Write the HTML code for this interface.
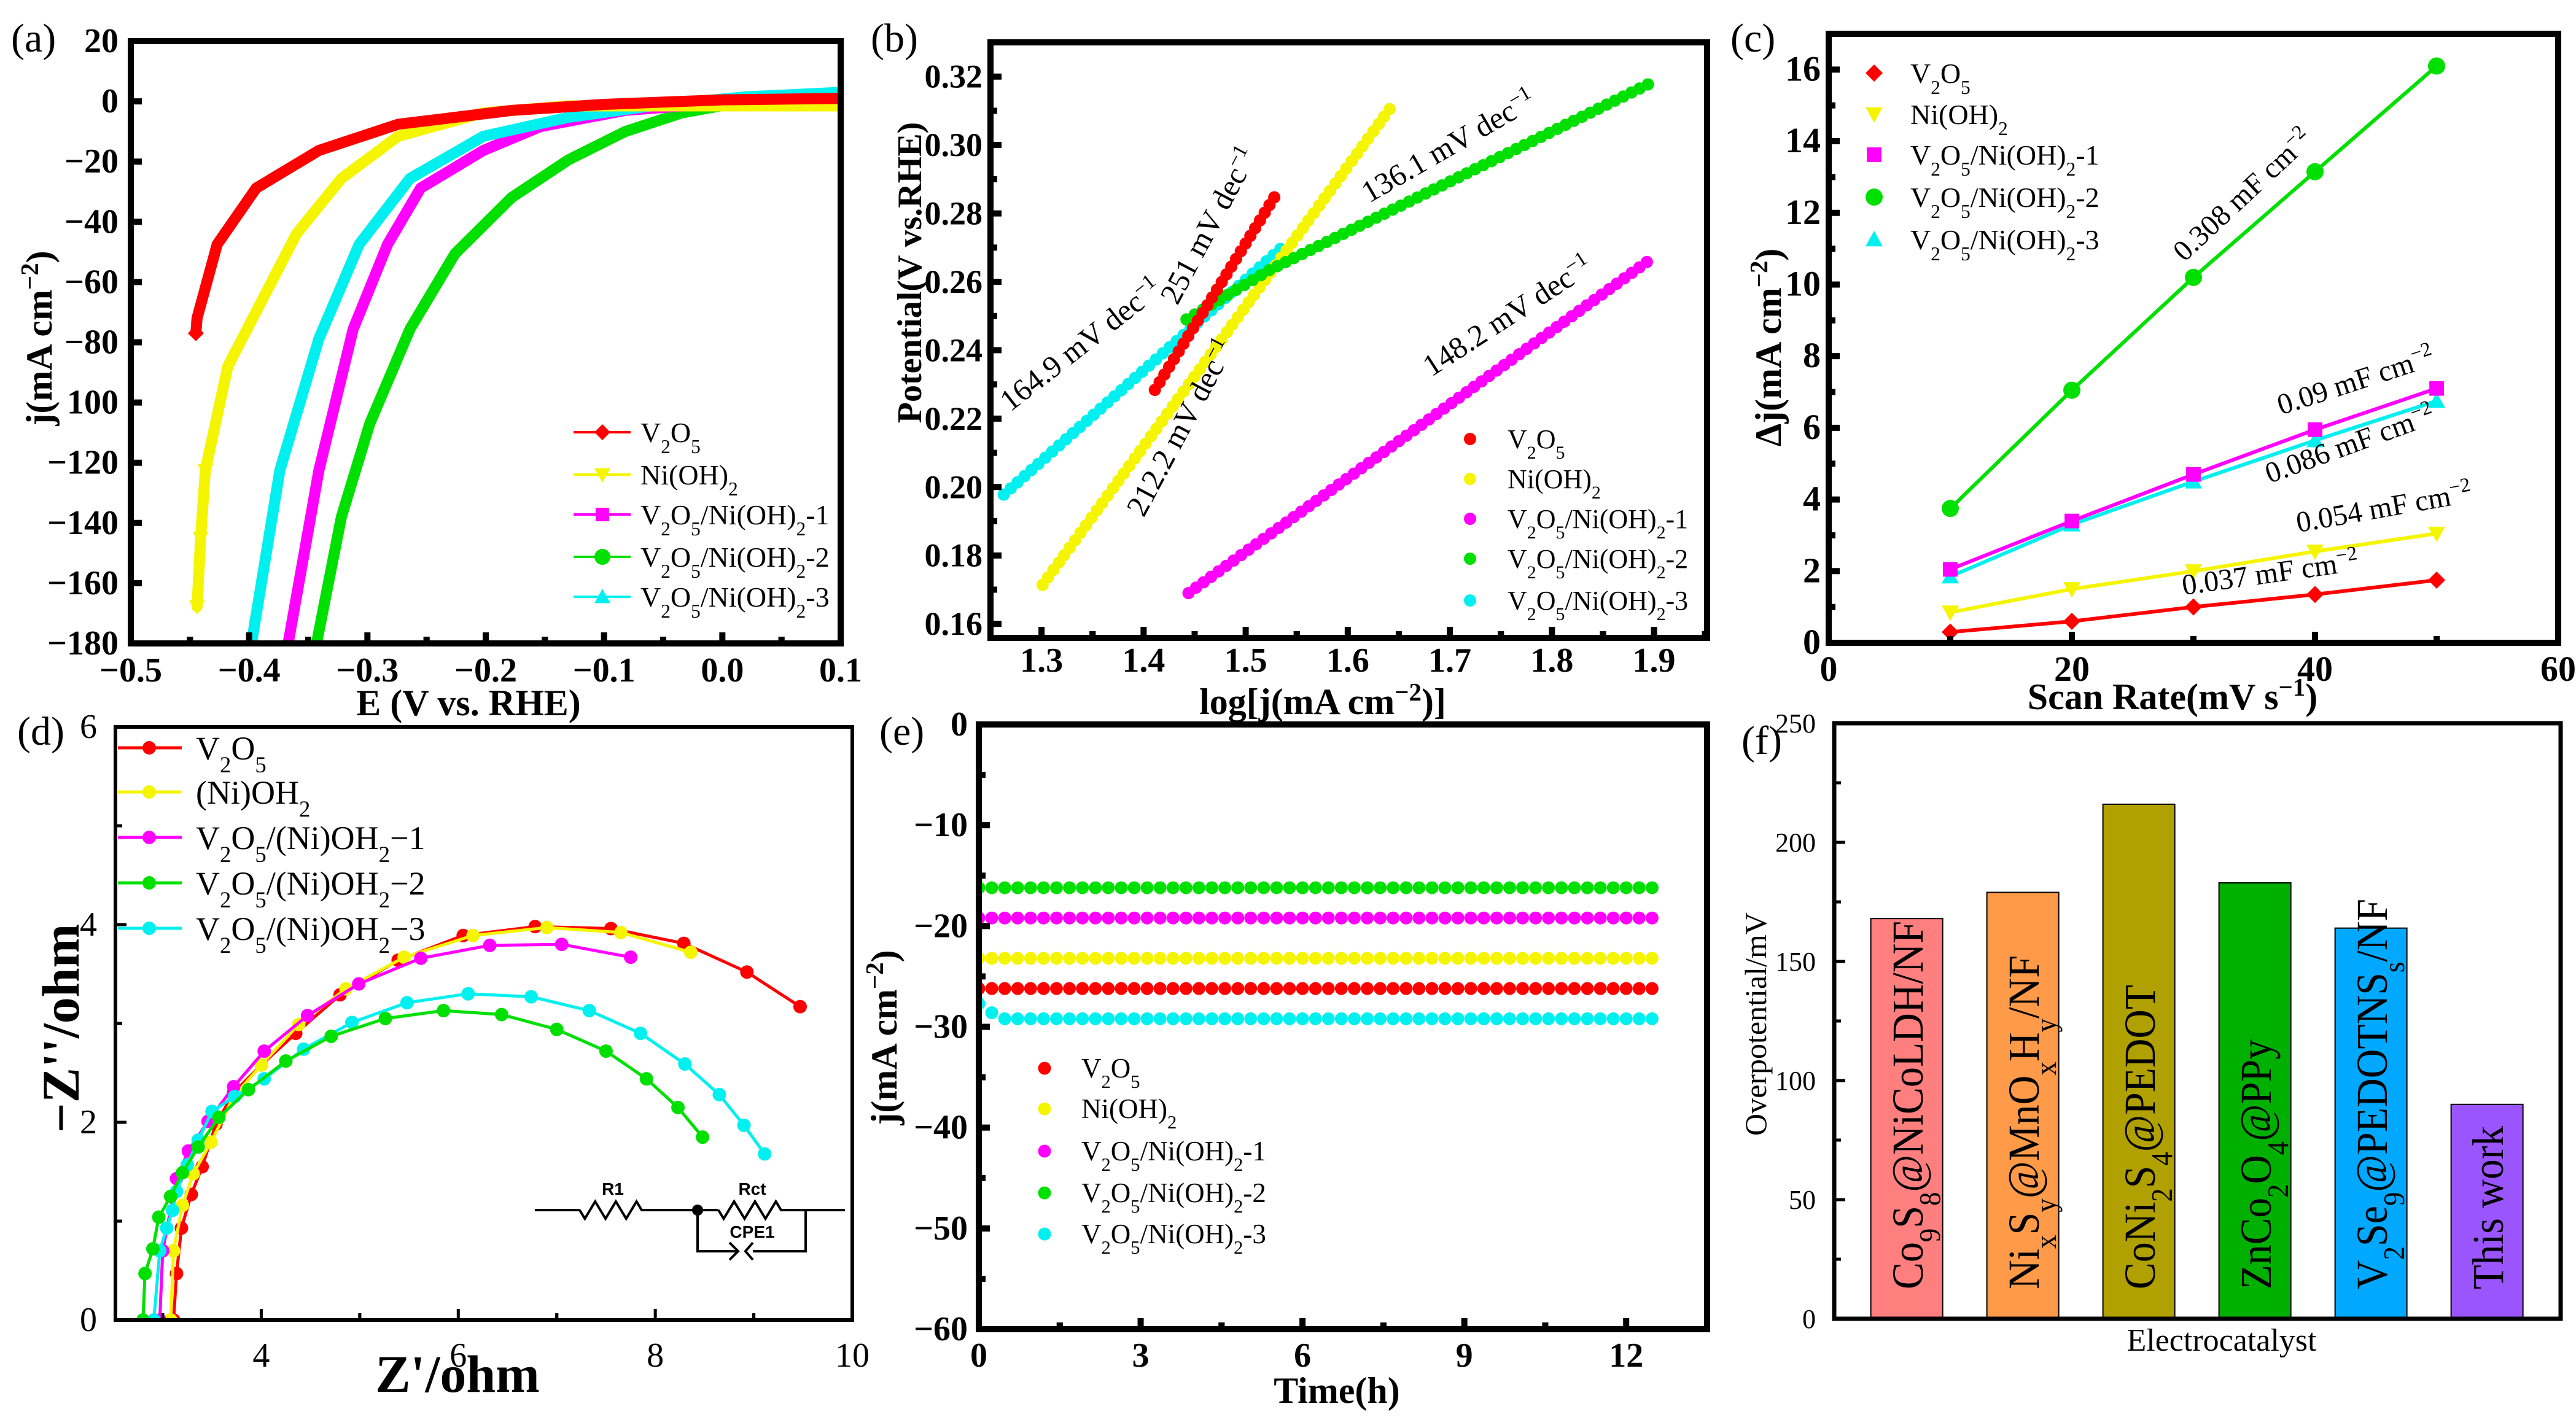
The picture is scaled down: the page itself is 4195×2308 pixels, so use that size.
<!DOCTYPE html>
<html><head><meta charset="utf-8"><title>Electrocatalyst figure</title>
<style>
html,body{margin:0;padding:0;background:#fff;}
svg{display:block;font-family:"Liberation Serif",serif;}
</style></head>
<body>
<svg id="fig" xmlns="http://www.w3.org/2000/svg" width="4195" height="2308" viewBox="0 0 4195 2308" font-family="Liberation Serif, serif"></svg>
<script>
// ---------- Panel (a) LSV data ----------
const aSeriesNames = ["V_2O_5","Ni(OH)_2","V_2O_5/Ni(OH)_2-1","V_2O_5/Ni(OH)_2-2","V_2O_5/Ni(OH)_2-3"];
const aRedE = [-0.445,-0.444,-0.427,-0.394,-0.341,-0.274,-0.178,-0.1,0.0,0.1];
const aRedJ = [-77,-72,-47.5,-28.8,-16.3,-7.6,-3,-1,0.5,1];
const aYelE = [-0.444,-0.441,-0.437,-0.418,-0.389,-0.36,-0.322,-0.274,-0.202,-0.13,0.0,0.1];
const aYelJ = [-167.8,-145,-122.5,-88,-66,-44,-25.6,-11.6,-3.8,-1.5,-1.5,-1.5];
const aMagE = [-0.367,-0.341,-0.312,-0.283,-0.255,-0.202,-0.154,-0.082,0.0,0.1];
const aMagJ = [-180,-122.5,-75.6,-47.5,-28.8,-16.3,-8.4,-3,-0.5,0];
const aGrnE = [-0.343,-0.322,-0.298,-0.264,-0.226,-0.178,-0.13,-0.082,-0.034,0.02,0.1];
const aGrnJ = [-180,-138,-107,-75.6,-50.6,-31.9,-19.4,-10,-3.8,0,1];
const aCyaE = [-0.398,-0.374,-0.341,-0.307,-0.264,-0.202,-0.13,-0.058,0.02,0.1];
const aCyaJ = [-180,-122.5,-78.8,-47.5,-25.6,-11.6,-5.3,-1.4,1.5,3];
const aXTicks = [-0.5,-0.4,-0.3,-0.2,-0.1,0.0,0.1];
const aXLabels = ["−0.5","−0.4","−0.3","−0.2","−0.1","0.0","0.1"];
const aYTicks = [20,0,-20,-40,-60,-80,-100,-120,-140,-160,-180];
const aYLabels = ["20","0","−20","−40","−60","−80","100","−120","−140","−160","−180"];

// ---------- Panel (b) Tafel data ----------
const bLogStart = [1.411,1.301,1.444,1.442,1.263];
const bLogEnd   = [1.528,1.641,1.893,1.894,1.534];
const bPotStart = [0.2284,0.1714,0.169,0.249,0.1978];
const bPotEnd   = [0.2847,0.3105,0.2658,0.3177,0.2696];
const bGreenKneeLog = 1.523;
const bGreenKneePot = 0.2634;
const bSlopeLabels = ["251 mV dec","212.2 mV dec","148.2 mV dec","136.1 mV dec","164.9 mV dec"];
const bXTicks = [1.3,1.4,1.5,1.6,1.7,1.8,1.9];
const bXLabels = ["1.3","1.4","1.5","1.6","1.7","1.8","1.9"];
const bYTicks = [0.16,0.18,0.20,0.22,0.24,0.26,0.28,0.30,0.32];
const bYLabels = ["0.16","0.18","0.20","0.22","0.24","0.26","0.28","0.30","0.32"];

// ---------- Panel (c) Cdl data ----------
const cScan = [10,20,30,40,50];
const cRed = [0.3,0.6,1.0,1.35,1.75];
const cYel = [0.85,1.5,2.0,2.55,3.05];
const cMag = [2.05,3.4,4.7,5.95,7.1];
const cGrn = [3.75,7.05,10.2,13.15,16.1];
const cCya = [1.85,3.3,4.5,5.65,6.75];
const cCdlLabels = ["0.037 mF cm","0.054 mF cm","0.09 mF cm","0.308 mF cm","0.086 mF cm"];
const cXTicks = [0,20,40,60];
const cXLabels = ["0","20","40","60"];
const cYTicks = [0,2,4,6,8,10,12,14,16];
const cYLabels = ["0","2","4","6","8","10","12","14","16"];

// ---------- Panel (d) EIS data ----------
const dRedX = [3.11,3.14,3.19,3.29,3.40,3.54,3.72,4.0,4.35,4.80,5.39,6.05,6.78,7.55,8.29,8.93,9.47];
const dRedY = [0,0.47,0.93,1.27,1.55,1.98,2.30,2.58,2.90,3.29,3.64,3.89,3.98,3.96,3.81,3.52,3.17];
const dYelX = [3.08,3.11,3.20,3.31,3.49,3.72,4.0,4.38,4.86,5.45,6.15,6.90,7.65,8.36];
const dYelY = [0,0.70,1.16,1.48,1.80,2.26,2.58,2.99,3.35,3.67,3.89,3.97,3.92,3.72];
const dMagX = [2.97,3.0,3.14,3.26,3.46,3.72,4.03,4.47,4.99,5.62,6.32,7.05,7.75];
const dMagY = [0,0.70,1.43,1.71,2.01,2.36,2.72,3.08,3.40,3.66,3.79,3.80,3.67];
const dGrnX = [2.80,2.82,2.90,2.96,3.08,3.20,3.36,3.57,3.87,4.25,4.71,5.26,5.85,6.44,7.00,7.50,7.91,8.23,8.48];
const dGrnY = [0,0.47,0.72,1.04,1.25,1.49,1.75,2.05,2.33,2.62,2.87,3.05,3.13,3.09,2.94,2.72,2.44,2.15,1.85];
const dCyaX = [2.91,2.97,3.04,3.10,3.14,3.25,3.36,3.50,3.73,4.03,4.43,4.92,5.48,6.10,6.74,7.33,7.85,8.30,8.65,8.90,9.11];
const dCyaY = [0,0.70,0.93,1.11,1.30,1.57,1.82,2.11,2.26,2.44,2.74,3.01,3.21,3.30,3.27,3.13,2.90,2.59,2.28,1.97,1.68];
const dNames = ["V_2O_5","(Ni)OH_2","V_2O_5/(Ni)OH_2−1","V_2O_5/(Ni)OH_2−2","V_2O_5/(Ni)OH_2−3"];
const dXTicks = [4,6,8,10];
const dXLabels = ["4","6","8","10"];
const dYTicks = [0,2,4,6];
const dYLabels = ["0","2","4","6"];

// ---------- Panel (e) stability data ----------
const eLevels = [-26.2,-23.2,-19.2,-16.2,-29.2];
const eCyanStart = [-27.7,-28.6];
const eDuration = 12.6;
const eSampleStep = 0.24;
const eXTicks = [0,3,6,9,12];
const eXLabels = ["0","3","6","9","12"];
const eYTicks = [0,-10,-20,-30,-40,-50,-60];
const eYLabels = ["0","−10","−20","−30","−40","−50","−60"];

// ---------- Panel (f) comparison data ----------
const fCatalysts = ["Co_9S_8@NiCoLDH/NF","Ni_xS_y@MnO_xH_y/NF","CoNi_2S_4@PEDOT","ZnCo_2O_4@PPy","V_2Se_9@PEDOTNS_s/NF","This work"];
const fOverpotential = [168,179,216,183,164,90];
const fYTicks = [0,50,100,150,200,250];
const fYLabels = ["0","50","100","150","200","250"];

// ---------- styling ----------
const COLORS = ["#ff0000","#f5f500","#ff00ff","#00e000","#00f0f0"];
const NS = "http://www.w3.org/2000/svg";
const svg = document.getElementById("fig");

function mk(tag, attrs, parent){
  const e = document.createElementNS(NS, tag);
  for (const k in attrs) e.setAttribute(k, attrs[k]);
  (parent||svg).appendChild(e);
  return e;
}
function fmt(s){
  let out = "";
  for (let i=0;i<s.length;i++){
    const c = s[i];
    if ((c==="_"||c==="^") && i+1<s.length){
      let tok="", j=i+1;
      if (c==="_"){ tok=s[j]; j++; }
      else { while (j<s.length && /[0-9−\-]/.test(s[j])) { tok+=s[j]; j++; } }
      out += '<tspan baseline-shift="'+(c==="_"?"sub":"super")+'" font-size="68%">'+tok+'</tspan>';
      i = j-1;
    } else {
      out += c==="<"?"&lt;":c==="&"?"&amp;":c;
    }
  }
  return out;
}
function txt(parent, x, y, s, attrs){
  const t = mk("text", Object.assign({x:x,y:y,"font-family":"Liberation Serif, serif"}, attrs||{}), parent);
  t.innerHTML = fmt(s);
  return t;
}

const P = {
  a:{x0:213,x1:1369,y0:67,y1:1048,xmin:-0.5,xmax:0.1,ymin:-180,ymax:20,sw:10},
  b:{x0:1613,x1:2780,y0:69,y1:1039,xmin:1.25,xmax:1.952,ymin:0.1559,ymax:0.330,sw:10},
  c:{x0:2978,x1:4166,y0:55,y1:1047,xmin:0,xmax:60,ymin:0,ymax:17,sw:10},
  d:{x0:188,x1:1388,y0:1184,y1:2150,xmin:2.52,xmax:10,ymin:0,ymax:6,sw:6},
  e:{x0:1594,x1:2780,y0:1180,y1:2165,xmin:0,xmax:13.5,ymin:-60,ymax:0,sw:10},
  f:{x0:2987,x1:4170,y0:1178,y1:2148,xmin:0,xmax:1,ymin:0,ymax:250,sw:7}
};
function sx(p,v){return p.x0+(v-p.xmin)/(p.xmax-p.xmin)*(p.x1-p.x0);}
function sy(p,v){return p.y1-(v-p.ymin)/(p.ymax-p.ymin)*(p.y1-p.y0);}

function panelGroup(key, name){
  const p = P[key];
  const g = mk("g", {});
  
  
  const cp = mk("clipPath", {id:"clip-"+key}, g);
  mk("rect", {x:p.x0, y:p.y0, width:p.x1-p.x0, height:p.y1-p.y0}, cp);
  const data = mk("g", {"clip-path":"url(#clip-"+key+")"}, g);
  
  
  return {g:g, data:data, p:p};
}
function frame(G){
  const p=G.p;
  const r = mk("rect", {x:p.x0,y:p.y0,width:p.x1-p.x0,height:p.y1-p.y0,fill:"none",stroke:"#000","stroke-width":p.sw}, G.g);
  
  
}
function xTicks(G, ticks, labels, minorStep, opts){
  const p=G.p; opts=opts||{};
  ticks.forEach((v,i)=>{
    const x=sx(p,v);
    const l=mk("line",{x1:x,x2:x,y1:p.y1,y2:p.y1-18,stroke:"#000","stroke-width":opts.tw||10},G.g);
    
    
    const t=txt(G.g,x,opts.ly,labels[i],{"text-anchor":"middle","font-size":opts.fs||55,"font-weight":opts.bold===false?"normal":"bold"});
    
    
  });
  if (minorStep){
    for (let v=ticks[0]-minorStep; v<=p.xmax+1e-9; v+=minorStep*2){
      if (v<p.xmin) continue;
      const x=sx(p,v);
      const l=mk("line",{x1:x,x2:x,y1:p.y1,y2:p.y1-11,stroke:"#000","stroke-width":opts.tw||10},G.g);
      
      
    }
    for (let v=ticks[0]+minorStep; v<=p.xmax+1e-9; v+=minorStep*2){
      const x=sx(p,v);
      const l=mk("line",{x1:x,x2:x,y1:p.y1,y2:p.y1-11,stroke:"#000","stroke-width":opts.tw||10},G.g);
      
      
    }
  }
}
function yTicks(G, ticks, labels, minorStep, opts){
  const p=G.p; opts=opts||{};
  ticks.forEach((v,i)=>{
    const y=sy(p,v);
    const l=mk("line",{x1:p.x0,x2:p.x0+18,y1:y,y2:y,stroke:"#000","stroke-width":opts.tw||10},G.g);
    
    
    const t=txt(G.g,opts.lx,y+(opts.dy||18),labels[i],{"text-anchor":"end","font-size":opts.fs||55,"font-weight":opts.bold===false?"normal":"bold"});
    
    
  });
  if (minorStep){
    const lo=Math.min(...ticks), hi=Math.max(...ticks);
    for (let v=lo+minorStep; v<hi; v+=minorStep*2){
      const y=sy(p,v);
      const l=mk("line",{x1:p.x0,x2:p.x0+11,y1:y,y2:y,stroke:"#000","stroke-width":opts.tw||10},G.g);
      
      
    }
  }
}
function marker(parent, shape, x, y, r, color){
  let e;
  if (shape==="diamond") e=mk("polygon",{points:[x,y-r,x+r,y,x,y+r,x-r,y].join(","),fill:color},parent);
  else if (shape==="down") e=mk("polygon",{points:[x-r,y-r*0.8,x+r,y-r*0.8,x,y+r].join(","),fill:color},parent);
  else if (shape==="up") e=mk("polygon",{points:[x-r,y+r*0.8,x+r,y+r*0.8,x,y-r].join(","),fill:color},parent);
  else if (shape==="square") e=mk("rect",{x:x-r*0.85,y:y-r*0.85,width:r*1.7,height:r*1.7,fill:color},parent);
  else e=mk("circle",{cx:x,cy:y,r:r,fill:color},parent);
  return e;
}
function panelLetter(x,y,s){
  const t=txt(svg,x,y,s,{"font-size":66});
  
  
}
function axisTitle(x,y,s,rot,attrs){
  const t=txt(svg,x,y,s,Object.assign({"text-anchor":"middle"},attrs,rot?{transform:"rotate(-90 "+x+" "+y+")"}:{}));
  return t;
}
const SHAPES=["diamond","down","square","circle","up"];

// ================= Panel A =================
(function(){
  const G=panelGroup("a","panel-a-lsv"); const p=G.p;
  const Es=[aRedE,aYelE,aMagE,aGrnE,aCyaE], Js=[aRedJ,aYelJ,aMagJ,aGrnJ,aCyaJ];
  const order=[3,2,4,1,0];
  order.forEach(i=>{
    const pts=Es[i].map((e,k)=>sx(p,e)+","+sy(p,Js[i][k])).join(" ");
    const pl=mk("polyline",{points:pts,fill:"none",stroke:COLORS[i],"stroke-width":18,"stroke-linejoin":"round","stroke-linecap":"round"},G.data);
    
    
  });
  const m1=marker(G.data,"diamond",sx(p,aRedE[0]),sy(p,aRedJ[0]),13,COLORS[0]);
  
  
  for (let k=0;k<3;k++){
    const m=marker(G.data,"down",sx(p,aYelE[k]),sy(p,aYelJ[k]),13,COLORS[1]);
    
    
  }
  frame(G);
  xTicks(G,aXTicks,aXLabels,0.05,{ly:1110,fs:56});
  yTicks(G,aYTicks,aYLabels,0,{lx:193,fs:56});
  const lg=mk("g",{},G.g);
  
  
  const ly=[704,773,838,907,972];
  aSeriesNames.forEach((n,i)=>{
    const l=mk("line",{x1:934,x2:1027,y1:ly[i],y2:ly[i],stroke:COLORS[i],"stroke-width":4},lg);
    
    
    const m=marker(lg,SHAPES[i],981,ly[i],13,COLORS[i]);
    
    
    const t=txt(lg,1043,ly[i]+16,n,{"font-size":46});
    
    
  });
  const xt=axisTitle(763,1165,"E (V vs. RHE)",false,{"font-size":60,"font-weight":"bold"});
  
  
  const yt=axisTitle(84,551,"j(mA cm^−2)",true,{"font-size":60,"font-weight":"bold"});
  
  
})();
panelLetter(18,84,"(a)");

// ================= Panel B =================
(function(){
  const G=panelGroup("b","panel-b-tafel"); const p=G.p;
  const order=[4,1,3,0,2];
  order.forEach(i=>{
    const pts=[[bLogStart[i],bPotStart[i]]];
    if (i===3) pts.push([bGreenKneeLog,bGreenKneePot]);
    pts.push([bLogEnd[i],bPotEnd[i]]);
    for (let s=0;s<pts.length-1;s++){
      const x1=sx(p,pts[s][0]),y1=sy(p,pts[s][1]),x2=sx(p,pts[s+1][0]),y2=sy(p,pts[s+1][1]);
      const len=Math.hypot(x2-x1,y2-y1); const n=Math.max(2,Math.round(len/15));
      for (let k=0;k<=n;k++){
        const c=mk("circle",{cx:x1+(x2-x1)*k/n,cy:y1+(y2-y1)*k/n,r:10,fill:COLORS[i]},G.data);
        
        
      }
    }
  });
  frame(G);
  xTicks(G,bXTicks,bXLabels,0.05,{ly:1094,fs:56});
  yTicks(G,bYTicks,bYLabels,0.01,{lx:1600,fs:54});
  const ann=[[1983,375,-62],[1937,704,-62],[2464,528,-33],[2367,252,-30],[1770,574,-38]];
  bSlopeLabels.forEach((s,i)=>{
    const a=ann[i];
    const t=txt(G.g,a[0],a[1],s+"^−1",{"text-anchor":"middle","font-size":50,transform:"rotate("+a[2]+" "+a[0]+" "+a[1]+")"});
    
    
  });
  const lg=mk("g",{},G.g);
  
  
  const ly=[715,780,845,910,978];
  aSeriesNames.forEach((n,i)=>{
    const c=mk("circle",{cx:2394,cy:ly[i],r:10,fill:COLORS[i]},lg);
    
    
    const t=txt(lg,2455,ly[i]+15,n,{"font-size":44});
    
    
  });
  const xt=axisTitle(2154,1163,"log[j(mA cm^−2)]",false,{"font-size":60,"font-weight":"bold"});
  
  
  const yt=axisTitle(1500,444,"Potential(V vs.RHE)",true,{"font-size":56,"font-weight":"bold"});
  
  
})();
panelLetter(1418,84,"(b)");

// ================= Panel C =================
(function(){
  const G=panelGroup("c","panel-c-cdl"); const p=G.p;
  const S=[cRed,cYel,cMag,cGrn,cCya];
  [4,2,1,0,3].forEach(i=>{
    const pts=cScan.map((x,k)=>sx(p,x)+","+sy(p,S[i][k])).join(" ");
    const pl=mk("polyline",{points:pts,fill:"none",stroke:COLORS[i],"stroke-width":6},G.data);
    
    
    cScan.forEach((x,k)=>{
      const m=marker(G.data,SHAPES[i],sx(p,x),sy(p,S[i][k]),14,COLORS[i]);
      
      
    });
  });
  frame(G);
  xTicks(G,cXTicks,cXLabels,10,{ly:1109,fs:58});
  yTicks(G,cYTicks,cYLabels,1,{lx:2965,fs:58});
  const ann=[[3699,949,-8],[3885,842,-10],[3841,635,-18],[3663,329,-43],[3832,738,-20]];
  cCdlLabels.forEach((s,i)=>{
    const a=ann[i];
    const t=txt(G.g,a[0],a[1],s+"^−2",{"text-anchor":"middle","font-size":48,transform:"rotate("+a[2]+" "+a[0]+" "+a[1]+")"});
    
    
  });
  const lg=mk("g",{},G.g);
  
  
  const ly=[119,186,252,321,390];
  aSeriesNames.forEach((n,i)=>{
    const m=marker(lg,SHAPES[i],3052,ly[i],14,COLORS[i]);
    
    
    const t=txt(lg,3111,ly[i]+16,n,{"font-size":46});
    
    
  });
  const xt=axisTitle(3538,1155,"Scan Rate(mV s^−1)",false,{"font-size":60,"font-weight":"bold"});
  
  
  const yt=axisTitle(2900,566,"Δj(mA cm^−2)",true,{"font-size":60,"font-weight":"bold"});
  
  
})();
panelLetter(2818,84,"(c)");

// ================= Panel D =================
(function(){
  const G=panelGroup("d","panel-d-eis"); const p=G.p;
  const X=[dRedX,dYelX,dMagX,dGrnX,dCyaX], Y=[dRedY,dYelY,dMagY,dGrnY,dCyaY];
  [0,1,2,4,3].forEach(i=>{
    const pts=X[i].map((x,k)=>sx(p,x)+","+sy(p,Y[i][k])).join(" ");
    const pl=mk("polyline",{points:pts,fill:"none",stroke:COLORS[i],"stroke-width":5},G.data);
    
    
    X[i].forEach((x,k)=>{
      const c=mk("circle",{cx:sx(p,x),cy:sy(p,Y[i][k]),r:11,fill:COLORS[i]},G.data);
      
      
    });
  });
  frame(G);
  xTicks(G,dXTicks,dXLabels,1,{ly:2226,fs:56,bold:false,tw:5});
  yTicks(G,dYTicks,dYLabels,1,{lx:158,fs:56,bold:false,tw:5});
  const ci=mk("g",{stroke:"#000","stroke-width":4,fill:"none"},G.g);
  
  
  function zig(xa,xb,y){let s="M"+xa+","+y;const n=6,w=(xb-xa)/n;for(let k=0;k<n;k++){s+=" L"+(xa+w*(k+0.5))+","+(y+(k%2?-14:14));}s+=" L"+xb+","+y;return s;}
  const wire=mk("path",{d:"M871,1971 L944,1971 "+zig(944,1045,1971)+" L1170,1971 "+zig(1170,1272,1971)+" L1376,1971 M1312,1971 L1312,2038 L1226,2038 M1200,2038 L1136,2038 L1136,1971 M1188,2024 L1202,2038 L1188,2052 M1226,2024 L1214,2038 L1226,2052"},ci);
  
  
  const node=mk("circle",{cx:1136,cy:1971,r:9,fill:"#000",stroke:"none"},G.g);
  
  
  [["R1",998,1946],["Rct",1225,1946],["CPE1",1225,2016]].forEach(a=>{
    const t=mk("text",{x:a[1],y:a[2],"text-anchor":"middle","font-size":28,"font-weight":"bold","font-family":"Liberation Sans, sans-serif"},G.g);
    t.textContent=a[0];
    
    
  });
  const lg=mk("g",{},G.g);
  
  
  const ly=[1218,1290,1364,1438,1512];
  dNames.forEach((n,i)=>{
    const l=mk("line",{x1:192,x2:296,y1:ly[i],y2:ly[i],stroke:COLORS[i],"stroke-width":5},lg);
    
    
    const c=mk("circle",{cx:243,cy:ly[i],r:11,fill:COLORS[i]},lg);
    
    
    const t=txt(lg,319,ly[i]+19,n,{"font-size":54});
    
    
  });
  const xt=axisTitle(745,2267,"Z'/ohm",false,{"font-size":86,"font-weight":"bold"});
  
  
  const yt=axisTitle(128,1675,"−Z''/ohm",true,{"font-size":86,"font-weight":"bold"});
  
  
})();
panelLetter(28,1213,"(d)");

// ================= Panel E =================
(function(){
  const G=panelGroup("e","panel-e-stability"); const p=G.p;
  const times=[]; for (let t=0;t<=eDuration+1e-9;t+=eSampleStep) times.push(t);
  [3,2,1,0,4].forEach(i=>{
    times.forEach((t,k)=>{
      let v=eLevels[i];
      if (i===4 && k<eCyanStart.length) v=eCyanStart[k];
      const c=mk("circle",{cx:sx(p,t),cy:sy(p,v),r:10.5,fill:COLORS[i]},G.data);
      
      
    });
  });
  frame(G);
  xTicks(G,eXTicks,eXLabels,1.5,{ly:2226,fs:56});
  yTicks(G,eYTicks,eYLabels,5,{lx:1576,fs:56});
  const lg=mk("g",{},G.g);
  
  
  const ly=[1740,1806,1875,1943,2010];
  aSeriesNames.forEach((n,i)=>{
    const c=mk("circle",{cx:1701,cy:ly[i],r:10.5,fill:COLORS[i]},lg);
    
    
    const t=txt(lg,1761,ly[i]+15,n,{"font-size":45});
    
    
  });
  const xt=axisTitle(2177,2285,"Time(h)",false,{"font-size":60,"font-weight":"bold"});
  
  
  const yt=axisTitle(1460,1690,"j(mA cm^−2)",true,{"font-size":60,"font-weight":"bold"});
  
  
})();
panelLetter(1432,1213,"(e)");

// ================= Panel F =================
(function(){
  const G=panelGroup("f","panel-f-comparison"); const p=G.p;
  const barColors=["#ff7f7f","#ff9a48","#b0a000","#00b000","#00a8ff","#9b55ff"];
  const lens=[600,544,496,407,636,266];
  const slot=189, bw=117;
  fCatalysts.forEach((name,i)=>{
    const cx=p.x0+(i+0.625)*slot;
    const top=sy(p,fOverpotential[i]);
    const r=mk("rect",{x:cx-bw/2,y:top,width:bw,height:p.y1-top,fill:barColors[i],stroke:"#000","stroke-width":2},G.g);
    
    
    const by=2100;
    const t=txt(G.g,cx+26,by,name,{"font-size":72,textLength:lens[i],lengthAdjust:"spacingAndGlyphs",transform:"rotate(-90 "+(cx+26)+" "+by+")"});
    
    
  });
  frame(G);
  yTicks(G,fYTicks,fYLabels,25,{lx:2957,fs:44,bold:false,tw:5,dy:15});
  const xt=axisTitle(3618,2200,"Electrocatalyst",false,{"font-size":52});
  
  
  const yt=axisTitle(2876,1668,"Overpotential/mV",true,{"font-size":50});
  
  
})();
panelLetter(2836,1228,"(f)");
</script>
</body></html>
